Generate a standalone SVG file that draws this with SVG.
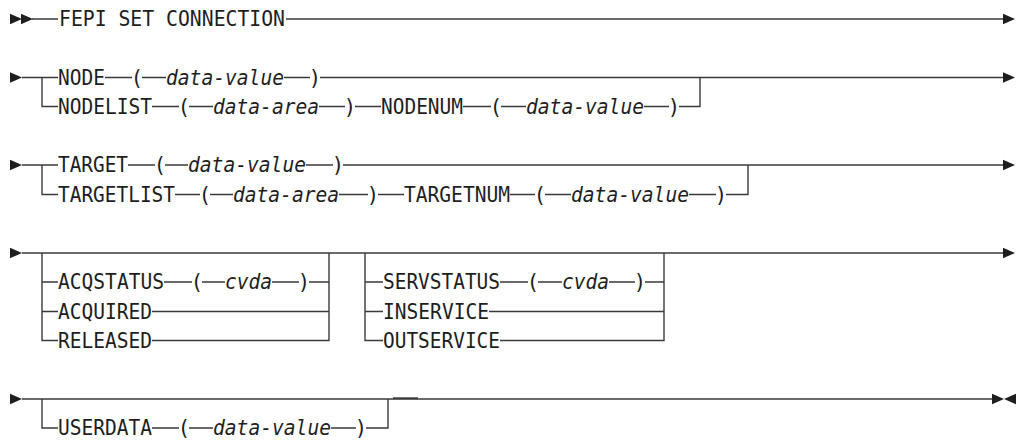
<svg xmlns="http://www.w3.org/2000/svg" xmlns:xlink="http://www.w3.org/1999/xlink" width="1017" height="440" viewBox="0 0 1017 440">
<style>
.ln{fill:none;stroke:#3a3a3a;stroke-width:1.4}
.t{font-family:"DejaVu Sans Mono","Liberation Mono",monospace;font-size:20.5px;fill:#1e1e1e}
.i{font-style:italic}
.p{text-anchor:middle}
.bg{fill:#fff}
.ah{fill:#1e1e1e}
</style>
<defs>
<path id="r" d="M0,-5.2 L12,0 L0,5.2 Z"/>
<path id="l" d="M12,-5.2 L0,0 L12,5.2 Z"/>
</defs>
<rect width="1017" height="440" fill="#fff"/>
<g id="connectors">
<path class="ln" d="M32,19 H1003"/>
<path class="ln" d="M22,77.5 H1003"/>
<path class="ln" d="M42,77.5 V106.5 H700 V77.5"/>
<path class="ln" d="M22,165 H1003"/>
<path class="ln" d="M42,165 V194.5 H748 V165"/>
<path class="ln" d="M22,253 H1003"/>
<path class="ln" d="M42,253 V340.5 H329 V253 M42,282 H329 M42,311.5 H329"/>
<path class="ln" d="M365,253 V340.5 H664 V253 M365,282 H664 M365,311.5 H664"/>
<path class="ln" d="M22,399 H992"/>
<path class="ln" d="M42,399 V428 H388 V399"/>
<path class="ln" d="M393,398.2 H418" style="stroke-width:1.8"/>
</g>
<g id="arrows" class="ah">
<use xlink:href="#r" x="10" y="19"/><use xlink:href="#r" x="21" y="19"/>
<use xlink:href="#r" x="1003" y="19"/>
<use xlink:href="#r" x="10" y="77.5"/><use xlink:href="#r" x="1003" y="77.5"/>
<use xlink:href="#r" x="10" y="165"/><use xlink:href="#r" x="1003" y="165"/>
<use xlink:href="#r" x="10" y="253"/><use xlink:href="#r" x="1003" y="253"/>
<use xlink:href="#r" x="10" y="399"/><use xlink:href="#r" x="992" y="399"/><use xlink:href="#l" x="1004" y="399"/>
</g>
<g id="n-fepi"><rect class="bg" x="58" y="8" width="228" height="22"/><text class="t" x="59" y="26.4" textLength="226" lengthAdjust="spacingAndGlyphs">FEPI SET CONNECTION</text></g>
<g id="n-node">
<rect class="bg" x="58" y="66.5" width="47" height="22"/><text class="t" x="58" y="84.9" textLength="47" lengthAdjust="spacingAndGlyphs">NODE</text>
<rect class="bg" x="132" y="66.5" width="10" height="22"/><text class="t p" x="137" y="84.9">(</text>
<rect class="bg" x="166" y="66.5" width="118" height="22"/><text class="t i" x="166" y="84.9" textLength="118" lengthAdjust="spacingAndGlyphs">data-value</text>
<rect class="bg" x="310" y="66.5" width="10" height="22"/><text class="t p" x="315" y="84.9">)</text>
</g>
<g id="n-nodelist">
<rect class="bg" x="58" y="95.5" width="94" height="22"/><text class="t" x="58" y="113.9" textLength="94" lengthAdjust="spacingAndGlyphs">NODELIST</text>
<rect class="bg" x="179" y="95.5" width="10" height="22"/><text class="t p" x="184" y="113.9">(</text>
<rect class="bg" x="213" y="95.5" width="106" height="22"/><text class="t i" x="213" y="113.9" textLength="106" lengthAdjust="spacingAndGlyphs">data-area</text>
<rect class="bg" x="345" y="95.5" width="10" height="22"/><text class="t p" x="350" y="113.9">)</text>
<rect class="bg" x="381" y="95.5" width="82" height="22"/><text class="t" x="381" y="113.9" textLength="82" lengthAdjust="spacingAndGlyphs">NODENUM</text>
<rect class="bg" x="491" y="95.5" width="10" height="22"/><text class="t p" x="496" y="113.9">(</text>
<rect class="bg" x="526" y="95.5" width="118" height="22"/><text class="t i" x="526" y="113.9" textLength="118" lengthAdjust="spacingAndGlyphs">data-value</text>
<rect class="bg" x="669" y="95.5" width="10" height="22"/><text class="t p" x="674" y="113.9">)</text>
</g>
<g id="n-target">
<rect class="bg" x="58" y="154" width="70" height="22"/><text class="t" x="58" y="172.4" textLength="70" lengthAdjust="spacingAndGlyphs">TARGET</text>
<rect class="bg" x="155" y="154" width="10" height="22"/><text class="t p" x="160" y="172.4">(</text>
<rect class="bg" x="188" y="154" width="118" height="22"/><text class="t i" x="188" y="172.4" textLength="118" lengthAdjust="spacingAndGlyphs">data-value</text>
<rect class="bg" x="333" y="154" width="10" height="22"/><text class="t p" x="338" y="172.4">)</text>
</g>
<g id="n-targetlist">
<rect class="bg" x="58" y="183.5" width="117" height="22"/><text class="t" x="58" y="201.9" textLength="117" lengthAdjust="spacingAndGlyphs">TARGETLIST</text>
<rect class="bg" x="200" y="183.5" width="10" height="22"/><text class="t p" x="205" y="201.9">(</text>
<rect class="bg" x="233" y="183.5" width="106" height="22"/><text class="t i" x="233" y="201.9" textLength="106" lengthAdjust="spacingAndGlyphs">data-area</text>
<rect class="bg" x="368" y="183.5" width="10" height="22"/><text class="t p" x="373" y="201.9">)</text>
<rect class="bg" x="404" y="183.5" width="106" height="22"/><text class="t" x="404" y="201.9" textLength="106" lengthAdjust="spacingAndGlyphs">TARGETNUM</text>
<rect class="bg" x="535" y="183.5" width="10" height="22"/><text class="t p" x="540" y="201.9">(</text>
<rect class="bg" x="571" y="183.5" width="118" height="22"/><text class="t i" x="571" y="201.9" textLength="118" lengthAdjust="spacingAndGlyphs">data-value</text>
<rect class="bg" x="716" y="183.5" width="10" height="22"/><text class="t p" x="721" y="201.9">)</text>
</g>
<g id="n-acqstatus">
<rect class="bg" x="58" y="271" width="106" height="22"/><text class="t" x="58" y="289.4" textLength="106" lengthAdjust="spacingAndGlyphs">ACQSTATUS</text>
<rect class="bg" x="192" y="271" width="10" height="22"/><text class="t p" x="197" y="289.4">(</text>
<rect class="bg" x="225" y="271" width="47" height="22"/><text class="t i" x="225" y="289.4" textLength="47" lengthAdjust="spacingAndGlyphs">cvda</text>
<rect class="bg" x="299" y="271" width="10" height="22"/><text class="t p" x="304" y="289.4">)</text>
</g>
<g id="n-acquired"><rect class="bg" x="58" y="300.5" width="94" height="22"/><text class="t" x="58" y="318.9" textLength="94" lengthAdjust="spacingAndGlyphs">ACQUIRED</text></g>
<g id="n-released"><rect class="bg" x="58" y="329.5" width="94" height="22"/><text class="t" x="58" y="347.9" textLength="94" lengthAdjust="spacingAndGlyphs">RELEASED</text></g>
<g id="n-servstatus">
<rect class="bg" x="383" y="271" width="117" height="22"/><text class="t" x="383" y="289.4" textLength="117" lengthAdjust="spacingAndGlyphs">SERVSTATUS</text>
<rect class="bg" x="528" y="271" width="10" height="22"/><text class="t p" x="533" y="289.4">(</text>
<rect class="bg" x="562" y="271" width="47" height="22"/><text class="t i" x="562" y="289.4" textLength="47" lengthAdjust="spacingAndGlyphs">cvda</text>
<rect class="bg" x="635" y="271" width="10" height="22"/><text class="t p" x="640" y="289.4">)</text>
</g>
<g id="n-inservice"><rect class="bg" x="383" y="300.5" width="106" height="22"/><text class="t" x="383" y="318.9" textLength="106" lengthAdjust="spacingAndGlyphs">INSERVICE</text></g>
<g id="n-outservice"><rect class="bg" x="383" y="329.5" width="117" height="22"/><text class="t" x="383" y="347.9" textLength="117" lengthAdjust="spacingAndGlyphs">OUTSERVICE</text></g>
<g id="n-userdata">
<rect class="bg" x="58" y="417" width="94" height="22"/><text class="t" x="58" y="435.4" textLength="94" lengthAdjust="spacingAndGlyphs">USERDATA</text>
<rect class="bg" x="179" y="417" width="10" height="22"/><text class="t p" x="184" y="435.4">(</text>
<rect class="bg" x="213" y="417" width="118" height="22"/><text class="t i" x="213" y="435.4" textLength="118" lengthAdjust="spacingAndGlyphs">data-value</text>
<rect class="bg" x="356" y="417" width="10" height="22"/><text class="t p" x="361" y="435.4">)</text>
</g>
</svg>
